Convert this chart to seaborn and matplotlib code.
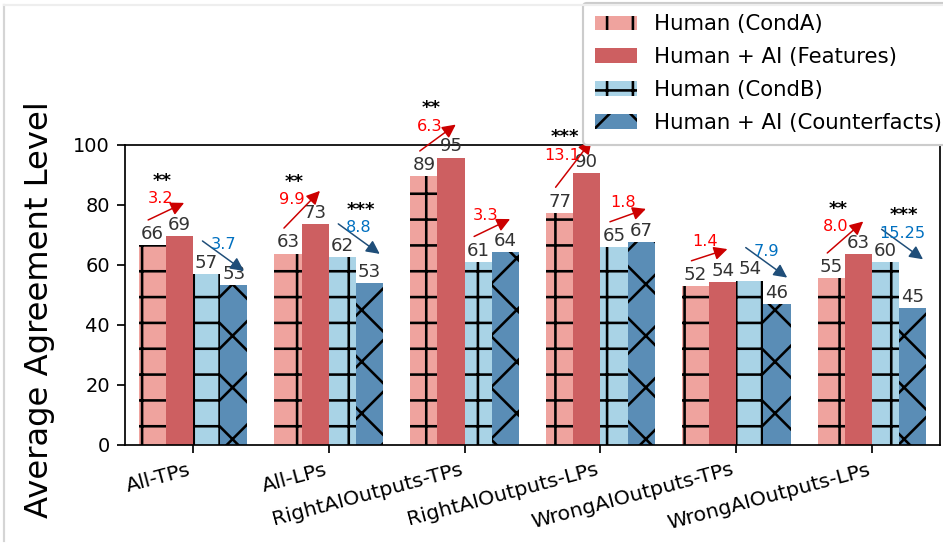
import numpy as np
import pandas as pd
import seaborn as sns
import matplotlib.pyplot as plt
from matplotlib.lines import Line2D

categories = ['All-TPs', 'All-LPs', 'RightAIOutputs-TPs', 'RightAIOutputs-LPs',
              'WrongAIOutputs-TPs', 'WrongAIOutputs-LPs']
conditions = ['Human (CondA)', 'Human + AI (Features)',
              'Human (CondB)', 'Human + AI (Counterfacts)']

cond_a = [66.5, 63.8, 89.5, 77.4, 52.9, 55.5]
features = [69.7, 73.7, 95.8, 90.5, 54.3, 63.5]
cond_b = [57.0, 62.7, 61.0, 65.9, 54.8, 60.9]
counterfacts = [53.3, 53.9, 64.3, 67.7, 46.9, 45.65]

# change between paired conditions and significance stars
feat_change = ['3.2', '9.9', '6.3', '13.1', '1.4', '8.0']
cf_change = ['3.7', '8.8', '3.3', '1.8', '7.9', '15.25']
feat_stars = ['**', '**', '**', '***', '', '**']
cf_stars = ['', '***', '', '', '', '***']

colors = ['#EFA39E', '#CD5F61', '#A9D3E6', '#5A8DB6']
hatches = ['+', '', '+', 'x']

plt.rcParams['hatch.linewidth'] = 1.2
plt.rcParams['font.family'] = ['DejaVu Sans']

df = pd.DataFrame({
    'category': categories * 4,
    'condition': np.repeat(conditions, len(categories)),
    'value': cond_a + features + cond_b + counterfacts,
})

dpi = 155
fig = plt.figure(figsize=(943 / dpi, 544 / dpi), dpi=dpi)
ax = fig.add_axes([0.1326, 0.182, 0.8642, 0.5515])

sns.barplot(data=df, x='category', y='value', hue='condition', hue_order=conditions,
            palette=colors, saturation=1, errorbar=None, edgecolor='black',
            linewidth=0, legend=False, ax=ax)

for cont, h in zip(ax.containers, hatches):
    for p in cont:
        p.set_hatch(h)
    ax.bar_label(cont, labels=[str(int(p.get_height())) for p in cont],
                 padding=1, fontsize=8.5, color='#333333')

ax.set_ylim(0, 100)
ax.set_xlim(-0.5, len(categories) - 0.5)


def change_arrow(x0, h0, x1, h1, text, stars):
    if h1 > h0:
        start = (x0 - 0.03, h0 + 8.5)
        tip = (x1 + 0.035, h1 + 11)
        line_c, text_c = '#cc0000', 'red'
    else:
        start = (x0 - 0.03, h0 + 11)
        tip = (x1 + 0.075, start[1] - 10)
        line_c, text_c = '#1f4e79', '#0070c0'
    ax.annotate('', xy=tip, xytext=start, annotation_clip=False,
                arrowprops=dict(arrowstyle='-|>', color=line_c, lw=0.7,
                                mutation_scale=13, shrinkA=0, shrinkB=0))
    # label sits beside the arrow middle (pixel offsets)
    p0 = ax.transData.transform(start)
    p1 = ax.transData.transform(tip)
    mid = ((start[0] + tip[0]) / 2, (start[1] + tip[1]) / 2)
    if h1 > h0:
        d = (p1 - p0) / np.hypot(*(p1 - p0))
        off = (-d[1] * 14, d[0] * 14)
    else:
        off = (0, 11)
    ax.annotate(text, xy=mid, xytext=off, textcoords='offset pixels', color=text_c,
                fontsize=7.5, ha='center', va='center', annotation_clip=False)
    if stars:
        ax.annotate(stars, xy=mid, xytext=(off[0] + 2, off[1] + 18),
                    textcoords='offset pixels', fontsize=8.5, fontweight='bold',
                    ha='center', va='center', annotation_clip=False)


for i in range(len(categories)):
    change_arrow(i - 0.3, cond_a[i], i - 0.1, features[i], feat_change[i], feat_stars[i])
    change_arrow(i + 0.1, cond_b[i], i + 0.3, counterfacts[i], cf_change[i], cf_stars[i])

ax.set_yticks(range(0, 101, 20))
ax.tick_params(axis='y', labelsize=9)
ax.set_xticks(range(len(categories)))
ax.set_xticklabels(categories, rotation=15, ha='right', fontsize=9.5)
ax.set_xlabel('')
ax.set_ylabel('Average Agreement Level', fontsize=15)
ax.yaxis.set_label_coords(-0.086, 0.45)

handles = [cont.patches[0] for cont in ax.containers]
ax.legend(handles, conditions, loc='upper left', bbox_to_anchor=(583 / 943, 0.995),
          bbox_transform=fig.transFigure, fontsize=9.9, framealpha=1,
          borderaxespad=0, labelspacing=0.6, borderpad=0.55)

# faint screenshot frame
fig.add_artist(Line2D([0.004, 0.004], [0.005, 0.99], color='#d5d5d5', lw=1,
                      transform=fig.transFigure))
fig.add_artist(Line2D([0.004, 1.0], [0.99, 0.99], color='#eeeeee', lw=1,
                      transform=fig.transFigure))

fig.savefig('out.png', dpi=dpi)
